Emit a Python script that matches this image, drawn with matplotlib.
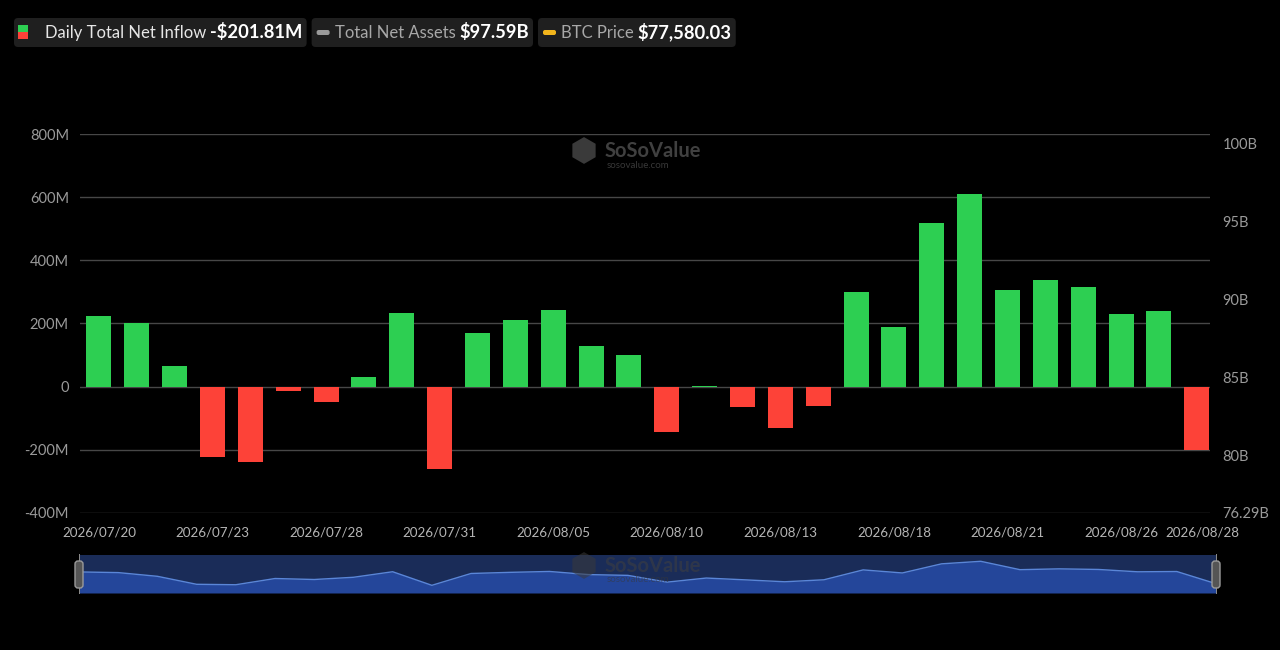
import matplotlib
matplotlib.use('Agg')
import matplotlib.pyplot as plt
from matplotlib.patches import FancyBboxPatch, Rectangle
from matplotlib.transforms import IdentityTransform, ScaledTranslation
import numpy as np

dates = ['2026/07/20', '2026/07/21', '2026/07/22', '2026/07/23', '2026/07/24',
         '2026/07/27', '2026/07/28', '2026/07/29', '2026/07/30', '2026/07/31',
         '2026/08/03', '2026/08/04', '2026/08/05', '2026/08/06', '2026/08/07',
         '2026/08/10', '2026/08/11', '2026/08/12', '2026/08/13', '2026/08/14',
         '2026/08/17', '2026/08/18', '2026/08/19', '2026/08/20', '2026/08/21',
         '2026/08/24', '2026/08/25', '2026/08/26', '2026/08/27', '2026/08/28']
# daily total net inflow, million USD
net_inflow = [225, 201, 66, -224, -240, -14, -50, 31, 232, -261,
              169, 210, 242, 128, 100, -145, 3, -63, -132, -60,
              299, 188, 519, 611, 307, 337, 315, 230, 240, -201.81]
shown_dates = ['2026/07/20', '2026/07/23', '2026/07/28', '2026/07/31', '2026/08/05',
               '2026/08/10', '2026/08/13', '2026/08/18', '2026/08/21', '2026/08/26',
               '2026/08/28']
left_ticks = [-400, -200, 0, 200, 400, 600, 800]
left_labels = ['-400M', '-200M', '0', '200M', '400M', '600M', '800M']
right_ticks = [76.29, 80, 85, 90, 95, 100]
right_labels = ['76.29B', '80B', '85B', '90B', '95B', '100B']
legend_items = [('Daily Total Net Inflow', '-$201.81M'),
                ('Total Net Assets', '$97.59B'),
                ('BTC Price', '$77,580.03')]

GREEN = '#2dcf52'
RED = '#fd4238'
BG = '#000000'
TXT = '#9a9a9a'

plt.rcParams['font.family'] = ['Lato', 'DejaVu Sans']

W, H = 1280, 650
fig = plt.figure(figsize=(12.8, 6.5), dpi=100, facecolor=BG)


def fx(px):
    return px / W


def fy(py):
    return 1 - py / H


# main axes
ax = fig.add_axes([fx(80), fy(513), fx(1210) - fx(80), fy(134) - fy(513)])
ax.set_facecolor(BG)
x = np.arange(len(dates))
colors = [GREEN if v >= 0 else RED for v in net_inflow]
ax.bar(x, net_inflow, width=0.66, color=colors, zorder=3)
ax.set_xlim(-0.5, len(dates) - 1 + 0.35)
ax.set_ylim(-400, 800)
ax.set_yticks(left_ticks)
ax.set_yticklabels(left_labels)
ax.grid(axis='y', color='#474747', linewidth=1.0, zorder=0)
ax.grid(axis='x', visible=False)
for s in ax.spines.values():
    s.set_visible(False)
ax.tick_params(axis='y', length=0, pad=8, labelsize=10.5, labelcolor=TXT)
ax.set_xticks([dates.index(d) for d in shown_dates])
ax.set_xticklabels(shown_dates)
ax.tick_params(axis='x', length=0, pad=10, labelsize=9.6, labelcolor='#b5b5b5')
last = ax.get_xticklabels()[-1]
last.set_transform(last.get_transform() + ScaledTranslation(6 / 100, 0, fig.dpi_scale_trans))

ax2 = ax.twinx()
ax2.set_ylim(76.29, 76.29 + 379 / 15.6)
ax2.set_yticks(right_ticks)
ax2.set_yticklabels(right_labels)
ax2.tick_params(axis='y', length=0, pad=9, labelsize=10.5, labelcolor=TXT)
for s in ax2.spines.values():
    s.set_visible(False)


# watermark
def watermark(cx, cy, alpha):
    fig.text(fx(cx - 53), fy(cy), '\u2B22', fontsize=23, color='#3a3a3a', alpha=alpha,
             ha='center', va='center', family='DejaVu Sans')
    fig.text(fx(cx - 32), fy(cy - 2), 'SoSoValue', fontsize=14.5, fontweight='bold',
             color='#404040', alpha=alpha, ha='left', va='center')
    fig.text(fx(cx - 30), fy(cy + 12), 'sosovalue.com', fontsize=7,
             color='#383838', alpha=alpha, ha='left', va='center')


watermark(637, 153, 1.0)

# navigator
nav = fig.add_axes([fx(79), fy(593), fx(1216) - fx(79), fy(555) - fy(593)])
nav.set_facecolor('#1a2c58')
nav.fill_between(x, net_inflow, -540, color='#24469a', lw=0)
nav.plot(x, net_inflow, color='#5a86d8', lw=1)
nav.set_xlim(0, len(dates) - 1)
nav.set_ylim(-540, 840)
nav.set_xticks([])
nav.set_yticks([])
for s in nav.spines.values():
    s.set_visible(False)
watermark(637, 568, 0.55)

for hx in (79, 1216):
    fig.add_artist(Rectangle((hx - 0.5, H - 594), 1, 40, transform=IdentityTransform(),
                             facecolor='#8a8a8a', edgecolor='none'))
    fig.add_artist(FancyBboxPatch((hx - 4, H - 588), 8, 27, boxstyle='round,pad=0,rounding_size=3',
                                  transform=IdentityTransform(), facecolor='#555555',
                                  edgecolor='#9a9a9a', linewidth=1))

# legend chips
renderer = fig.canvas.get_renderer()
chip_x = 14
label_colors = ['#e6e6e6', '#a8a8a8', '#a8a8a8']
for i, (label, value) in enumerate(legend_items):
    t1 = fig.text(0, fy(33), label, fontsize=12, color=label_colors[i], va='center')
    t2 = fig.text(0, fy(32), value, fontsize=13.2, color='#ffffff', fontweight='bold', va='center')
    w1 = t1.get_window_extent(renderer).width
    w2 = t2.get_window_extent(renderer).width
    lx = chip_x + (31 if i == 0 else 23)
    t1.set_x(fx(lx))
    t2.set_x(fx(lx + w1 + 4))
    chip_w = (lx - chip_x) + w1 + 4 + w2 + 4
    fig.add_artist(FancyBboxPatch((chip_x, H - 47), chip_w, 29,
                                  boxstyle='round,pad=0,rounding_size=4',
                                  transform=IdentityTransform(), facecolor='#1f1f1f',
                                  edgecolor='none', zorder=-1))
    if i == 0:
        fig.add_artist(Rectangle((chip_x + 4, H - 32), 10, 7, transform=IdentityTransform(),
                                 facecolor=GREEN, edgecolor='none'))
        fig.add_artist(Rectangle((chip_x + 4, H - 39), 10, 7, transform=IdentityTransform(),
                                 facecolor=RED, edgecolor='none'))
    else:
        fig.add_artist(FancyBboxPatch((chip_x + 5, H - 35), 13, 5,
                                      boxstyle='round,pad=0,rounding_size=2',
                                      transform=IdentityTransform(),
                                      facecolor='#9a9a9a' if i == 1 else '#f2b51c',
                                      edgecolor='none'))
    chip_x = chip_x + chip_w + 5

fig.savefig('out.png', dpi=100, facecolor=BG)
